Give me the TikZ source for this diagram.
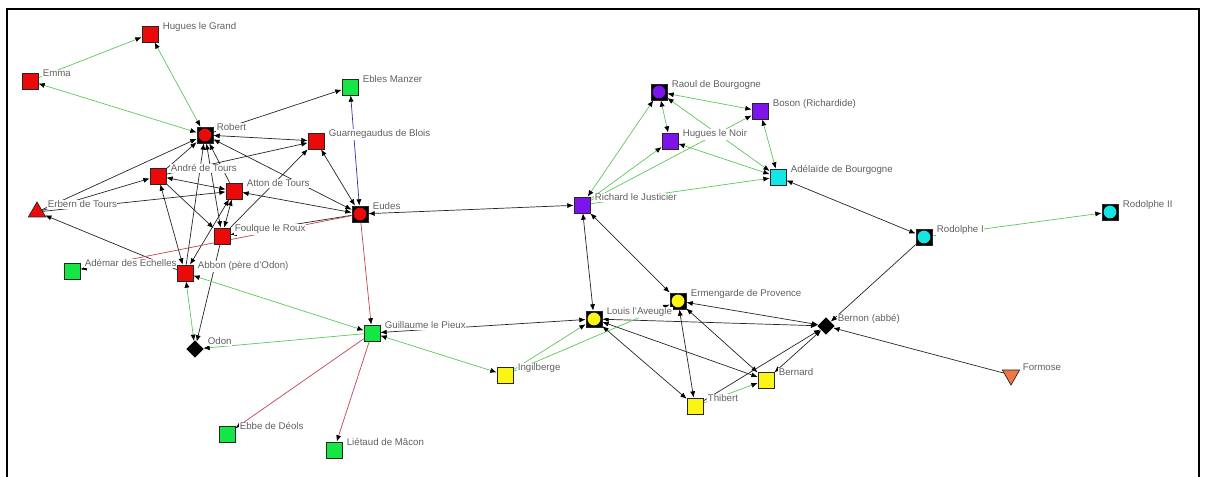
\documentclass[tikz,border=0pt]{standalone}
\usepackage{fontspec}
\setmainfont{Liberation Sans}
\usetikzlibrary{calc}
\usetikzlibrary{backgrounds}
\usetikzlibrary{arrows.meta}
\usetikzlibrary{shapes.geometric}

\definecolor{nred}{RGB}{235,10,10}
\definecolor{ngreen}{RGB}{20,230,70}
\definecolor{npurple}{RGB}{125,20,235}
\definecolor{ncyan}{RGB}{20,230,230}
\definecolor{nyellow}{RGB}{250,245,20}
\definecolor{norange}{RGB}{240,120,70}
\definecolor{egreen}{RGB}{90,200,90}
\definecolor{ered}{RGB}{190,70,80}
\definecolor{eblue}{RGB}{50,50,160}

\tikzset{
  sq/.style={draw=black!85, line width=0.5pt, minimum size=0.4cm, inner sep=0pt},
  rnd/.style={sq, fill=black, path picture={\fill[#1] (path picture bounding box.center) circle (0.16cm);}},
  dmd/.style={diamond, fill=black, minimum size=0.44cm, inner sep=0pt},
  tri/.style={regular polygon, regular polygon sides=3, draw=black!85, line width=0.5pt, minimum size=0.5cm, inner sep=0pt},
  lbl/.style={anchor=base west, fill=white, inner sep=0.4pt, text=black!62, font=\fontsize{6.9}{8}\selectfont},
  tie/.style={line width=0.5pt, draw=black!85, -{Latex[length=4.5pt,width=3.6pt,color=black]}},
  ties/.style={line width=0.5pt, draw=black!85, {Latex[length=4.5pt,width=3.6pt,color=black]}-{Latex[length=4.5pt,width=3.6pt,color=black]}},
  kin/.style={draw=egreen},
  war/.style={draw=ered},
  vas/.style={draw=eblue}
}

\begin{document}
\begin{tikzpicture}[x=0.025cm, y=-0.025cm]
    \useasboundingbox (0,0) rectangle (1206,477);

    % frame
    \draw[line width=1.4pt] (7,477) -- (7,9) -- (1199,9) -- (1199,477);

    % the Robertians
    \node[sq, fill=nred] (huguesg) at (150,34) {};
    \node[sq, fill=nred] (emma) at (30,81) {};
    \node[sq, fill=ngreen] (ebles) at (350,87) {};
    \node[rnd=nred] (robert) at (205,135) {};
    \node[sq, fill=nred] (guarn) at (316,141) {};
    \node[sq, fill=nred] (andre) at (158,176) {};
    \node[sq, fill=nred] (atton) at (234,191) {};
    \node[tri, fill=nred] (erbern) at (37,212) {};
    \node[rnd=nred] (eudes) at (360,214) {};
    \node[sq, fill=nred] (foulque) at (222,236) {};
    \node[sq, fill=ngreen] (ademar) at (72,271) {};
    \node[sq, fill=nred] (abbon) at (185,273) {};
    \node[dmd] (odon) at (195,349) {};
    \node[sq, fill=ngreen] (guillaume) at (372,333) {};
    \node[sq, fill=ngreen] (ebbe) at (227,434) {};
    \node[sq, fill=ngreen] (lietaud) at (334,450) {};

    % Burgundy and Provence
    \node[rnd=npurple] (raoul) at (659,92) {};
    \node[sq, fill=npurple] (boson) at (760,111) {};
    \node[sq, fill=npurple] (huguesn) at (670,141) {};
    \node[sq, fill=ncyan] (adelaide) at (778,177) {};
    \node[sq, fill=npurple] (richard) at (582,205) {};
    \node[rnd=ncyan] (rodolphe1) at (924,237) {};
    \node[rnd=ncyan] (rodolphe2) at (1110,212) {};
    \node[rnd=nyellow] (louis) at (594,319) {};
    \node[rnd=nyellow] (ermengarde) at (678,301) {};
    \node[sq, fill=nyellow] (ingilberge) at (505,375) {};
    \node[sq, fill=nyellow] (bernard) at (766,380) {};
    \node[sq, fill=nyellow] (thibert) at (695,406) {};
    \node[dmd] (bernon) at (826,326) {};
    \node[tri, fill=norange, shape border rotate=180] (formose) at (1011,375) {};

    % the ties
    \begin{scope}[on background layer]
        \draw[tie, kin] (emma) -- (huguesg);
        \draw[ties, kin] (robert) -- (huguesg);
        \draw[ties, kin] (robert) -- (emma);
        \draw[tie] (robert) -- (ebles);
        \draw[ties, vas] (eudes) -- (ebles);
        \draw[ties] (guarn) -- (robert);
        \draw[tie] (andre) -- (robert);
        \draw[tie] (atton) -- (robert);
        \draw[ties] (foulque) -- (robert);
        \draw[tie] (abbon) -- (robert);
        \draw[tie] (erbern) -- (robert);
        \draw[ties] (robert) -- (eudes);
        \draw[ties] (guarn) -- (eudes);
        \draw[tie] (andre) -- (guarn);
        \draw[tie] (foulque) -- (guarn);
        \draw[tie] (erbern) -- (andre);
        \draw[tie] (erbern) -- (atton);
        \draw[ties] (andre) -- (atton);
        \draw[ties] (eudes) -- (atton);
        \draw[tie] (andre) -- (foulque);
        \draw[ties] (foulque) -- (atton);
        \draw[ties] (abbon) -- (andre);
        \draw[ties] (abbon) -- (atton);
        \draw[tie] (foulque) -- (odon);
        \draw[tie] (abbon) -- (erbern);
        \draw[tie] (eudes) -- (foulque);
        \draw[tie, war] (eudes) -- (ademar);
        \draw[ties, kin] (abbon) -- (odon);
        \draw[ties, kin] (guillaume) -- (abbon);
        \draw[tie, kin] (guillaume) -- (odon);
        \draw[tie, war] (eudes) -- (guillaume);
        \draw[tie, war] (guillaume) -- (ebbe);
        \draw[tie, war] (guillaume) -- (lietaud);
        \draw[ties, kin] (guillaume) -- (ingilberge);
        \draw[ties] (guillaume) -- (louis);
        \draw[ties] (eudes) -- (richard);

        \draw[ties, kin] (richard) -- (raoul);
        \draw[tie, kin] (richard) -- (huguesn);
        \draw[tie, kin] (richard) -- (boson);
        \draw[tie, kin] (richard) -- (adelaide);
        \draw[ties, kin] (raoul) -- (boson);
        \draw[ties, kin] (raoul) -- (huguesn);
        \draw[ties, kin] (adelaide) -- (raoul);
        \draw[ties, kin] (adelaide) -- (huguesn);
        \draw[ties, kin] (boson) -- (adelaide);
        \draw[ties] (adelaide) -- (rodolphe1);
        \draw[tie, kin] (rodolphe1) -- (rodolphe2);
        \draw[tie] (rodolphe1) -- (bernon);
        \draw[tie] (formose) -- (bernon);

        \draw[ties] (richard) -- (louis);
        \draw[ties] (richard) -- (ermengarde);
        \draw[ties] (louis) -- (bernon);
        \draw[ties] (ermengarde) -- (bernon);
        \draw[ties] (louis) -- (thibert);
        \draw[ties] (ermengarde) -- (thibert);
        \draw[ties] (louis) -- (bernard);
        \draw[ties] (ermengarde) -- (bernard);
        \draw[ties] (bernard) -- (bernon);
        \draw[tie] (thibert) -- (bernon);
        \draw[tie, kin] (thibert) -- (bernard);
        \draw[tie, kin] (ingilberge) -- (louis);
        \draw[tie, kin] (ingilberge) -- (ermengarde);
    \end{scope}

    % names
    \node[lbl] (huguesg-l) at ($(huguesg)+(12,-4)$) {Hugues le Grand};
    \node[lbl] (emma-l) at ($(emma)+(12,-4)$) {Emma};
    \node[lbl] (ebles-l) at ($(ebles)+(12,-4)$) {Ebles Manzer};
    \node[lbl] (robert-l) at ($(robert)+(11,-4)$) {Robert};
    \node[lbl] (guarn-l) at ($(guarn)+(12,-4)$) {Guarnegaudus de Blois};
    \node[lbl] (andre-l) at ($(andre)+(12,-4)$) {André de Tours};
    \node[lbl] (atton-l) at ($(atton)+(12,-4)$) {Atton de Tours};
    \node[lbl] (erbern-l) at ($(erbern)+(10,-4)$) {Erbern de Tours};
    \node[lbl] (eudes-l) at ($(eudes)+(12,-4)$) {Eudes};
    \node[lbl] (foulque-l) at ($(foulque)+(12,-4)$) {Foulque le Roux};
    \node[lbl] (ademar-l) at ($(ademar)+(12,-4)$) {Adémar des Echelles};
    \node[lbl] (abbon-l) at ($(abbon)+(12,-4)$) {Abbon (père d'Odon)};
    \node[lbl] (odon-l) at ($(odon)+(12,-4)$) {Odon};
    \node[lbl] (guillaume-l) at ($(guillaume)+(12,-4)$) {Guillaume le Pieux};
    \node[lbl] (ebbe-l) at ($(ebbe)+(12,-4)$) {Ebbe de Déols};
    \node[lbl] (lietaud-l) at ($(lietaud)+(12,-4)$) {Liétaud de Mâcon};
    \node[lbl] (raoul-l) at ($(raoul)+(12,-4)$) {Raoul de Bourgogne};
    \node[lbl] (boson-l) at ($(boson)+(12,-4)$) {Boson (Richardide)};
    \node[lbl] (huguesn-l) at ($(huguesn)+(12,-4)$) {Hugues le Noir};
    \node[lbl] (adelaide-l) at ($(adelaide)+(12,-4)$) {Adélaïde de Bourgogne};
    \node[lbl] (richard-l) at ($(richard)+(12,-4)$) {Richard le Justicier};
    \node[lbl] (rodolphe1-l) at ($(rodolphe1)+(12,-4)$) {Rodolphe I};
    \node[lbl] (rodolphe2-l) at ($(rodolphe2)+(12,-4)$) {Rodolphe II};
    \node[lbl] (louis-l) at ($(louis)+(12,-4)$) {Louis l'Aveugle};
    \node[lbl] (ermengarde-l) at ($(ermengarde)+(12,-4)$) {Ermengarde de Provence};
    \node[lbl] (ingilberge-l) at ($(ingilberge)+(12,-4)$) {Ingilberge};
    \node[lbl] (bernard-l) at ($(bernard)+(12,-4)$) {Bernard};
    \node[lbl] (thibert-l) at ($(thibert)+(12,-4)$) {Thibert};
    \node[lbl] (bernon-l) at ($(bernon)+(11,-4)$) {Bernon (abbé)};
    \node[lbl] (formose-l) at ($(formose)+(11,-4)$) {Formose};
\end{tikzpicture}
\end{document}
